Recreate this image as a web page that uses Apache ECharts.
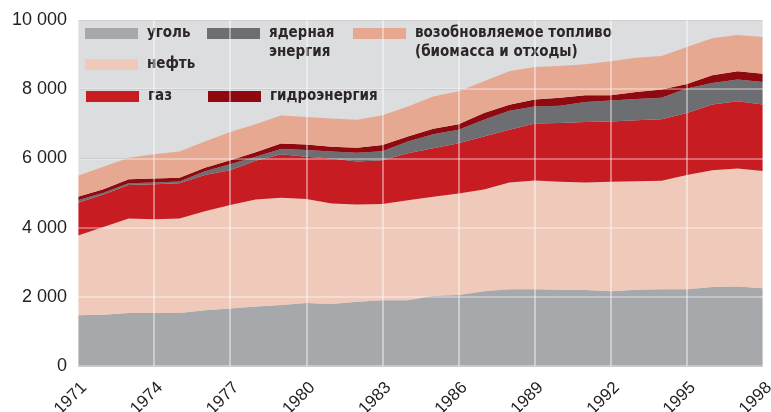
<!DOCTYPE html>
<html>
<head>
<meta charset="utf-8">
<script src="https://cdn.jsdelivr.net/npm/echarts@6/dist/echarts.min.js"></script>
<style>
  html, body { margin: 0; padding: 0; background: #fff; }
  #chart { width: 771px; height: 412px; }
</style>
</head>
<body>
<div id="chart"></div>
<script>
var years = ['1971','1972','1973','1974','1975','1976','1977','1978','1979','1980',
             '1981','1982','1983','1984','1985','1986','1987','1988','1989','1990',
             '1991','1992','1993','1994','1995','1996','1997','1998'];

// млн т н.э., по типам топлива (оценка по рисунку)
var coal    = [1470,1480,1530,1530,1530,1610,1660,1720,1760,1820,1790,1860,1900,1900,2030,2050,2160,2220,2220,2205,2195,2160,2205,2220,2220,2280,2300,2250];
var oil     = [2300,2540,2730,2710,2730,2860,2990,3090,3100,3010,2910,2810,2780,2890,2860,2935,2940,3080,3140,3120,3105,3165,3135,3135,3300,3380,3410,3385];
var gas     = [950,940,970,1010,1020,1050,1010,1120,1260,1220,1300,1240,1270,1360,1400,1455,1530,1530,1650,1695,1750,1745,1760,1780,1790,1895,1940,1920];
var nuclear = [70,50,50,50,50,110,170,120,150,190,200,250,260,340,410,390,490,550,490,500,580,600,620,615,710,625,630,655];
var hydro   = [100,100,120,120,110,100,120,130,160,160,140,150,180,140,155,160,190,170,200,230,195,155,200,240,130,220,240,235];
var renew   = [610,650,620,700,760,760,810,810,810,800,810,810,860,870,935,950,920,970,945,920,895,985,990,970,1070,1070,1050,1065];

var yTicks = [0, 2000, 4000, 6000, 8000, 10000];

var dom = document.getElementById('chart');
var myChart = echarts.init(dom);

var legendFont = '"Liberation Sans Narrow", "DejaVu Sans Condensed", "Liberation Sans", sans-serif';

function mkLegend(name, left, top, twoLines) {
    return {
        data: [name],
        left: left,
        top: top,
        padding: 0,
        icon: 'rect',
        itemWidth: 53,
        itemHeight: 11,
        selectedMode: false,
        // пустая первая строка, чтобы плашка стояла напротив первой строки подписи
        formatter: function (n) { return twoLines ? ' \n' + n : n; },
        textStyle: {
            fontFamily: legendFont,
            fontWeight: 'bold',
            fontSize: 15,
            lineHeight: 19,
            color: '#2b2627',
            padding: [0, 0, 0, 4]
        }
    };
}

var names = ['уголь', 'нефть', 'газ', 'ядерная\nэнергия', 'гидроэнергия',
             'возобновляемое топливо\n(биомасса и отходы)'];
var colors = ['#a7a8ab', '#efcabb', '#c71c22', '#6d6e71', '#8e0a10', '#e6a891'];
var values = [coal, oil, gas, nuclear, hydro, renew];

var series = [];
for (var i = 0; i < names.length; i++) {
    series.push({
        name: names[i],
        type: 'line',
        stack: 'total',
        data: values[i],
        symbol: 'none',
        lineStyle: { width: 0 },
        areaStyle: { color: colors[i], opacity: 1 },
        itemStyle: { color: colors[i] },
        z: 2
    });
}

var option = {
    animation: false,
    backgroundColor: '#ffffff',
    legend: [
        mkLegend(names[0], 85, 24, false),
        mkLegend(names[1], 85, 55, false),
        mkLegend(names[2], 86, 87, false),
        mkLegend(names[3], 207, 5, true),
        mkLegend(names[4], 208, 87, false),
        mkLegend(names[5], 353, 5, true)
    ],
    grid: {
        left: 78,
        right: 8,
        top: 20,
        bottom: 46,
        outerBoundsMode: 'none',
        show: true,
        backgroundColor: '#dcdddf',
        borderWidth: 0
    },
    xAxis: {
        type: 'category',
        data: years,
        boundaryGap: false,
        z: 5,
        axisLine: { show: false },
        axisTick: { show: false },
        axisLabel: {
            interval: 2,
            rotate: 45,
            margin: 13,
            verticalAlign: 'top',
            fontFamily: '"Liberation Sans", Arial, sans-serif',
            fontSize: 17,
            color: '#231f20'
        },
        splitLine: {
            show: true,
            interval: 2,
            lineStyle: { color: 'rgba(255,255,255,0.55)', width: 1.5 }
        }
    },
    yAxis: [
        {
            type: 'value',
            min: yTicks[0],
            max: yTicks[yTicks.length - 1],
            interval: 2000,
            axisLine: { show: false },
            axisTick: { show: false },
            axisLabel: {
                margin: 11,
                fontFamily: '"Liberation Sans", Arial, sans-serif',
                fontSize: 18,
                color: '#231f20',
                formatter: function (v) {
                    return String(v).replace(/\B(?=(\d{3})+(?!\d))/g, ' ');
                }
            },
            splitLine: {
                show: true,
                lineStyle: { color: '#b2b3b5', width: 1 }
            }
        },
        {
            type: 'value',
            position: 'left',
            min: yTicks[0],
            max: yTicks[yTicks.length - 1],
            interval: 2000,
            z: 5,
            axisLine: { show: false },
            axisTick: { show: false },
            axisLabel: { show: false },
            splitLine: {
                show: true,
                lineStyle: { color: 'rgba(255,255,255,0.45)', width: 1.5 }
            }
        }
    ],
    series: series
};

if (option && typeof option === 'object') {
    myChart.setOption(option, true);
}
</script>
</body>
</html>
